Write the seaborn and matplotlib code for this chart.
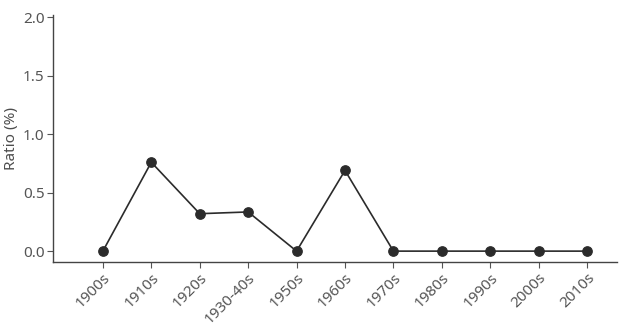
import matplotlib
matplotlib.use("Agg")
import matplotlib.pyplot as plt
import seaborn as sns
import pandas as pd

decades = ["1900s", "1910s", "1920s", "1930-40s", "1950s", "1960s",
           "1970s", "1980s", "1990s", "2000s", "2010s"]
ratio = [0.0, 0.76, 0.32, 0.335, 0.0, 0.69, 0.0, 0.0, 0.0, 0.0, 0.0]

sns.set_style("ticks")
plt.rcParams['font.family'] = ['Noto Sans', 'DejaVu Sans']

df = pd.DataFrame({"decade": decades, "ratio": ratio})

fig = plt.figure(figsize=(6.22, 3.24), dpi=100)
ax = fig.add_axes([0.0852, 0.191, 0.907, 0.763])

sns.pointplot(data=df, x="decade", y="ratio", color="#2b2b2b",
              markers="o", linestyles="-", ax=ax,
              markersize=6.8, linewidth=1.2)

ax.set_xlim(-1.03, 10.62)
ax.set_ylim(-0.094, 2.02)
ax.set_yticks([0.0, 0.5, 1.0, 1.5, 2.0])
ax.set_yticklabels(["0.0", "0.5", "1.0", "1.5", "2.0"])
ax.set_xlabel("")
ax.set_ylabel("Ratio (%)", fontsize=11, color="#4d4d4d", labelpad=3)
ax.tick_params(axis="both", labelsize=11, colors="#555555", labelcolor="#555555", length=4, pad=2)
for lab in ax.get_xticklabels():
    lab.set_rotation(45)
    lab.set_ha("right")
    lab.set_rotation_mode("anchor")
for s in ["top", "right"]:
    ax.spines[s].set_visible(False)
for s in ["left", "bottom"]:
    ax.spines[s].set_color("#444444")
    ax.spines[s].set_linewidth(1.0)

fig.savefig("out.png", dpi=100)
